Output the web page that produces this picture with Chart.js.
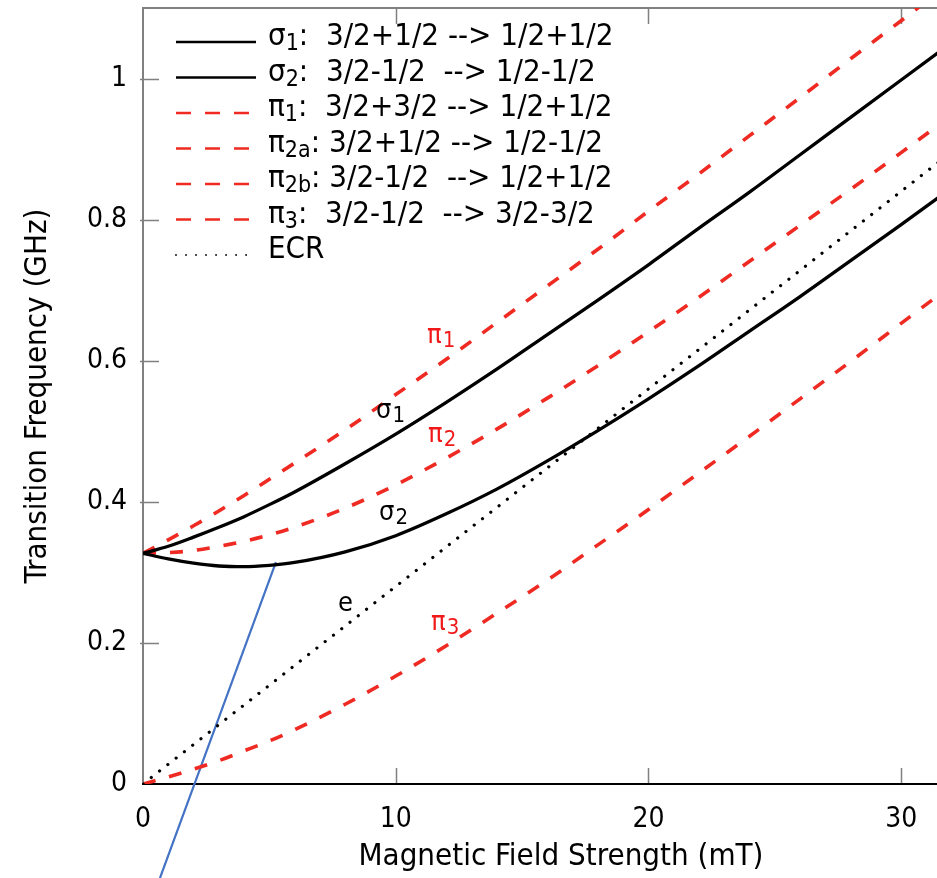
<!DOCTYPE html>
<html>
<head>
<meta charset="utf-8">
<script src="https://cdn.jsdelivr.net/npm/chart.js@4.4.1/dist/chart.umd.min.js"></script>
<style>
  html, body { margin:0; padding:0; background:#fff; overflow:hidden; }
  #wrap { width:937px; height:878px; overflow:hidden; }
</style>
</head>
<body>
<div id="wrap"><canvas id="chart" width="987" height="878"></canvas></div>
<script>
// ---------- data ----------
const fieldMT = [0, 1, 2, 3, 4, 5, 6, 8, 10, 12, 14, 16, 18, 20, 22, 24, 26, 28, 30, 32, 34];
const sigma1 = [0.327, 0.337, 0.350, 0.364, 0.379, 0.396, 0.414, 0.454, 0.496, 0.541, 0.588, 0.637, 0.686, 0.736, 0.788, 0.839, 0.892, 0.945, 0.998, 1.051, 1.104];
const sigma2 = [0.327, 0.319, 0.313, 0.309, 0.308, 0.310, 0.314, 0.329, 0.352, 0.383, 0.418, 0.458, 0.501, 0.546, 0.593, 0.642, 0.691, 0.742, 0.793, 0.845, 0.897];
const pi1    = [0.327, 0.346, 0.366, 0.387, 0.409, 0.432, 0.455, 0.502, 0.552, 0.602, 0.654, 0.706, 0.758, 0.812, 0.865, 0.919, 0.973, 1.028, 1.082, 1.137, 1.191];
const pi2    = [0.327, 0.328, 0.331, 0.337, 0.344, 0.353, 0.364, 0.391, 0.424, 0.462, 0.503, 0.547, 0.593, 0.641, 0.690, 0.741, 0.792, 0.843, 0.895, 0.948, 1.000];
const pi3    = [0, 0.010, 0.021, 0.033, 0.047, 0.061, 0.077, 0.113, 0.153, 0.196, 0.242, 0.289, 0.339, 0.389, 0.441, 0.493, 0.546, 0.599, 0.653, 0.707, 0.761];
const ecr    = [0, 0.028, 0.056, 0.084, 0.112, 0.140, 0.168, 0.224, 0.280, 0.336, 0.392, 0.448, 0.504, 0.560, 0.616, 0.672, 0.728, 0.784, 0.840, 0.896, 0.952];

// blue pointer line (ends), mT / GHz
const pointerMT = [5.26, 0.67];
const pointerGHz = [0.3145, -0.1334];

const xTicks = [0, 10, 20, 30];
const yTicks = [0, 0.2, 0.4, 0.6, 0.8, 1.0];

// curve labels: glyph, subscript, position (mT, GHz)
const curveLabelText = ['π', 'σ', 'π', 'σ', 'e', 'π'];
const curveLabelSub  = ['1', '1', '2', '2', '', '3'];
const curveLabelMT   = [11.24, 9.22, 11.28, 9.34, 7.72, 11.40];
const curveLabelGHz  = [0.6246, 0.5195, 0.4855, 0.3747, 0.2456, 0.2186];
const curveLabelRed  = [true, false, true, false, false, true];

// legend rows
const legendName = ['σ', 'σ', 'π', 'π', 'π', 'π', 'ECR'];
const legendSub  = ['1', '2', '1', '2a', '2b', '3', ''];
const legendRest = [':  3/2+1/2 --> 1/2+1/2', ':  3/2-1/2  --> 1/2-1/2', ':  3/2+3/2 --> 1/2+1/2',
                    ': 3/2+1/2 --> 1/2-1/2', ': 3/2-1/2  --> 1/2+1/2', ':  3/2-1/2  --> 3/2-3/2', ''];
const legendStyle = ['solid', 'solid', 'dash', 'dash', 'dash', 'dash', 'dot'];

// ---------- helpers ----------
const RED = '#ee2a22';
const FONT = '"DejaVu Sans Condensed", "DejaVu Sans"';
const toXY = ys => fieldMT.map((b, i) => ({ x: b, y: ys[i] }));

Chart.defaults.font.family = FONT;
Chart.defaults.color = '#000';

const curve = (label, ys, color, dash, width, cap) => ({
  label, data: toXY(ys), borderColor: color, borderWidth: width, borderDash: dash,
  borderCapStyle: cap || 'butt', pointRadius: 0, fill: false, cubicInterpolationMode: 'monotone'
});

const noPad = s => { s.paddingTop = 0; s.paddingBottom = 0; s.paddingLeft = 0; s.paddingRight = 0; };

// ---------- plugins ----------
const framePlugin = {
  id: 'frame',
  beforeDatasetsDraw(chart) {
    const { ctx, chartArea: a, scales: { x, y } } = chart;
    ctx.save();
    ctx.strokeStyle = '#808080';
    ctx.lineWidth = 1.5;
    ctx.beginPath();
    xTicks.slice(1).forEach(v => {
      const px = Math.round(x.getPixelForValue(v)) + 0.5;
      ctx.moveTo(px, a.bottom); ctx.lineTo(px, a.bottom - 16);
      ctx.moveTo(px, a.top); ctx.lineTo(px, a.top + 16);
    });
    yTicks.slice(1).forEach(v => {
      const py = Math.round(y.getPixelForValue(v)) + 0.5;
      ctx.moveTo(a.left - 3, py); ctx.lineTo(a.left + 16, py);
      ctx.moveTo(a.right, py); ctx.lineTo(a.right - 16, py);
    });
    ctx.stroke();
    ctx.lineWidth = 2;
    ctx.beginPath();
    ctx.moveTo(a.left, a.bottom); ctx.lineTo(a.left, a.top); ctx.lineTo(a.right, a.top); ctx.lineTo(a.right, a.bottom);
    ctx.stroke();
    ctx.strokeStyle = '#000';
    ctx.beginPath();
    ctx.moveTo(a.left - 1, a.bottom); ctx.lineTo(a.right, a.bottom);
    ctx.stroke();
    ctx.restore();
  }
};

const textPlugin = {
  id: 'texts',
  afterDatasetsDraw(chart) {
    const { ctx, scales: { x, y } } = chart;
    ctx.save();
    ctx.textBaseline = 'alphabetic';
    // labels on the curves
    curveLabelText.forEach((t, i) => {
      const px = x.getPixelForValue(curveLabelMT[i]);
      const py = y.getPixelForValue(curveLabelGHz[i]);
      ctx.fillStyle = curveLabelRed[i] ? '#f01818' : '#000';
      ctx.font = '27px ' + FONT;
      ctx.fillText(t, px, py);
      const w = ctx.measureText(t).width;
      if (curveLabelSub[i]) {
        ctx.font = '22px ' + FONT;
        ctx.fillText(curveLabelSub[i], px + w + 1, py + 4);
      }
    });
    // legend
    const x0 = 176, x1 = 256, tx = 268;
    legendName.forEach((n, i) => {
      const ly = 42 + i * 35.5;
      ctx.beginPath();
      if (legendStyle[i] === 'solid') {
        ctx.strokeStyle = '#000'; ctx.lineWidth = 2.4; ctx.setLineDash([]); ctx.lineCap = 'butt';
      } else if (legendStyle[i] === 'dash') {
        ctx.strokeStyle = RED; ctx.lineWidth = 2.4; ctx.setLineDash([15, 14]); ctx.lineCap = 'butt';
      } else {
        ctx.strokeStyle = '#000'; ctx.lineWidth = 1.8; ctx.setLineDash([0.01, 10]); ctx.lineCap = 'round';
      }
      ctx.moveTo(x0, ly); ctx.lineTo(x1, ly);
      ctx.stroke();
      ctx.setLineDash([]);
      ctx.fillStyle = '#000';
      ctx.font = '31px ' + FONT;
      let cx = tx;
      ctx.fillText(n, cx, ly + 3);
      cx += ctx.measureText(n).width;
      if (legendSub[i]) {
        ctx.font = '23px ' + FONT;
        ctx.fillText(legendSub[i], cx, ly + 8);
        cx += ctx.measureText(legendSub[i]).width;
        ctx.font = '31px ' + FONT;
      }
      ctx.fillText(legendRest[i], cx, ly + 3);
    });
    ctx.restore();
  }
};

// ---------- chart ----------
new Chart(document.getElementById('chart'), {
  type: 'line',
  data: {
    datasets: [
      curve('ECR', ecr, '#000', [0.01, 10.5], 3.2, 'round'),
      curve('σ1', sigma1, '#000', [], 3.3),
      curve('σ2', sigma2, '#000', [], 3.3),
      curve('π1', pi1, RED, [13, 14], 3.6),
      curve('π2', pi2, RED, [13, 14], 3.6),
      curve('π3', pi3, RED, [13, 14], 3.6),
      {
        label: 'pointer', data: pointerMT.map((b, i) => ({ x: b, y: pointerGHz[i] })),
        borderColor: '#4472c4', borderWidth: 2.2, pointRadius: 0, fill: false, clip: false, tension: 0
      }
    ]
  },
  options: {
    responsive: false,
    animation: false,
    layout: { autoPadding: false, padding: { top: 8, right: 8, left: 0, bottom: 0 } },
    plugins: { legend: { display: false }, tooltip: { enabled: false } },
    scales: {
      x: {
        type: 'linear', min: 0, max: 33.08,
        grid: { display: false }, border: { display: false },
        afterBuildTicks: s => { s.ticks = xTicks.map(v => ({ value: v })); },
        afterFit: s => { s.height = 94; noPad(s); },
        ticks: { font: { size: 28 }, padding: 11, maxRotation: 0 },
        title: { display: true, text: 'Magnetic Field Strength (mT)', font: { size: 31 }, padding: { top: 0, bottom: 2 } }
      },
      y: {
        type: 'linear', min: 0, max: 1.1,
        grid: { display: false }, border: { display: false },
        afterBuildTicks: s => { s.ticks = yTicks.map(v => ({ value: v })); },
        afterFit: s => { s.width = 143; noPad(s); },
        ticks: { font: { size: 28 }, padding: 8, callback: v => String(Number(v.toFixed(1))) },
        title: { display: true, text: 'Transition Frequency (GHz)', font: { size: 31 }, padding: { top: 19, bottom: 0 } }
      }
    }
  },
  plugins: [framePlugin, textPlugin]
});
</script>
</body>
</html>
